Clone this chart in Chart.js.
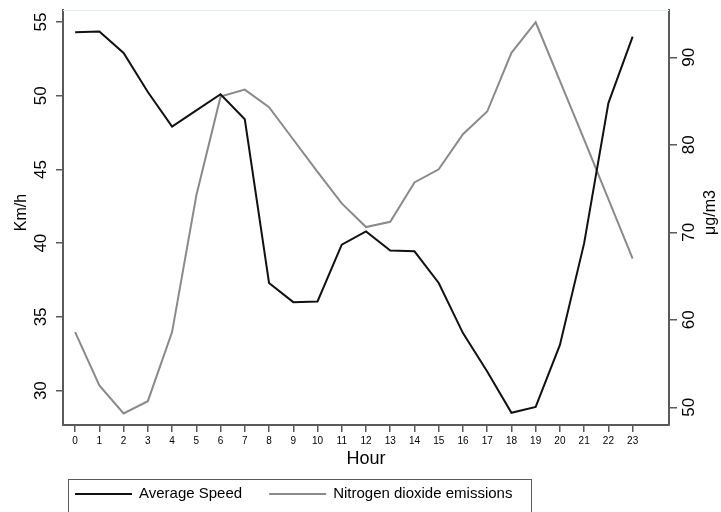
<!DOCTYPE html>
<html>
<head>
<meta charset="utf-8">
<script src="https://cdn.jsdelivr.net/npm/chart.js@4"></script>
<style>
  body { margin: 0; background: #fff; }
  canvas { display: block; }
</style>
</head>
<body>
<canvas id="chart" width="721" height="512"></canvas>
<script>
// hourly values
const hours = [0, 1, 2, 3, 4, 5, 6, 7, 8, 9, 10, 11, 12, 13, 14, 15, 16, 17, 18, 19, 20, 21, 22, 23];
const speed = [54.3, 54.35, 52.9, 50.25, 47.9, 49.0, 50.1, 48.4, 37.3, 36.0, 36.05, 39.9, 40.8, 39.5, 39.45, 37.3, 33.9, 31.3, 28.5, 28.9, 33.1, 40.0, 49.5, 54.0];
const no2 = [58.6, 52.5, 49.3, 50.7, 58.6, 74.2, 85.5, 86.3, 84.3, 80.6, 76.9, 73.3, 70.6, 71.2, 75.7, 77.2, 81.2, 83.8, 90.5, 94.0, 87.3, 80.6, 73.8, 67.0];
const speedTicks = [30, 35, 40, 45, 50, 55];
const no2Ticks = [50, 60, 70, 80, 90];

const FONT = '"Liberation Sans", Arial, sans-serif';
const AXIS = '#5a5a5a';

// rotated y tick labels, y titles, top frame and boxed legend
const extras = {
    id: 'extras',
    beforeDatasetsDraw(chart) {
        const { ctx, chartArea } = chart;
        ctx.save();
        ctx.strokeStyle = '#e4eded';
        ctx.lineWidth = 1;
        ctx.beginPath();
        ctx.moveTo(chartArea.left, chartArea.top + 0.5);
        ctx.lineTo(chartArea.right, chartArea.top + 0.5);
        ctx.stroke();
        ctx.restore();
    },
    afterDraw(chart) {
        const { ctx, chartArea, scales } = chart;
        const up = (x, y, txt) => {
            ctx.save();
            ctx.translate(x, y);
            ctx.rotate(-Math.PI / 2);
            ctx.fillText(txt, 0, 0);
            ctx.restore();
        };
        ctx.save();
        ctx.fillStyle = '#000';
        ctx.textAlign = 'center';
        ctx.textBaseline = 'middle';
        ctx.font = '17px ' + FONT;
        speedTicks.forEach(v => up(41, scales.y.getPixelForValue(v), String(v)));
        no2Ticks.forEach(v => up(689, scales.y1.getPixelForValue(v), String(v)));
        const midY = (chartArea.top + chartArea.bottom) / 2 - 5;
        ctx.font = '16px ' + FONT;
        up(22, midY, 'Km/h');
        up(711, midY, 'μg/m3');

        // legend
        ctx.font = '15px ' + FONT;
        ctx.textAlign = 'left';
        ctx.strokeStyle = AXIS;
        ctx.lineWidth = 1;
        ctx.strokeRect(68.5, 479.5, 463, 60);
        let x = 75;
        const ly = 494;
        chart.data.datasets.forEach(ds => {
            ctx.strokeStyle = ds.borderColor;
            ctx.lineWidth = 2;
            ctx.beginPath();
            ctx.moveTo(x, ly);
            ctx.lineTo(x + 57, ly);
            ctx.stroke();
            ctx.fillText(ds.label, x + 64, ly);
            x += 64 + ctx.measureText(ds.label).width + 27;
        });
        ctx.restore();
    }
};

new Chart(document.getElementById('chart').getContext('2d'), {
    type: 'line',
    data: {
        datasets: [{
            label: 'Average Speed',
            data: hours.map((h, i) => ({ x: h, y: speed[i] })),
            yAxisID: 'y',
            borderColor: '#111',
            borderWidth: 2,
            pointRadius: 0,
            tension: 0
        }, {
            label: 'Nitrogen dioxide emissions',
            data: hours.map((h, i) => ({ x: h, y: no2[i] })),
            yAxisID: 'y1',
            borderColor: '#8a8a8a',
            borderWidth: 2,
            pointRadius: 0,
            tension: 0
        }]
    },
    options: {
        responsive: false,
        animation: false,
        layout: { padding: { top: 10, bottom: 42 } },
        plugins: {
            legend: { display: false },
            tooltip: { enabled: false }
        },
        scales: {
            x: {
                type: 'linear',
                min: -0.5,
                max: 24.5,
                afterBuildTicks: s => { s.ticks = hours.map(v => ({ value: v })); },
                afterFit: s => { s.height = 45; },
                grid: { drawOnChartArea: false, drawTicks: true, tickLength: 7, color: AXIS, lineWidth: 1.5 },
                border: { color: AXIS, width: 2 },
                ticks: { color: '#000', font: { family: FONT, size: 10 }, padding: 3, maxRotation: 0, autoSkip: false },
                title: { display: true, text: 'Hour', color: '#000', font: { family: FONT, size: 18 }, padding: 0 }
            },
            y: {
                position: 'left',
                min: 27.67,
                max: 55.81,
                afterBuildTicks: s => { s.ticks = speedTicks.map(v => ({ value: v })); },
                afterFit: s => { s.width = 63; },
                grid: { drawOnChartArea: false, drawTicks: true, tickLength: 7, color: AXIS, lineWidth: 1.5 },
                border: { color: AXIS, width: 2 },
                ticks: { display: false }
            },
            y1: {
                position: 'right',
                min: 47.98,
                max: 95.4,
                afterBuildTicks: s => { s.ticks = no2Ticks.map(v => ({ value: v })); },
                afterFit: s => { s.width = 52; },
                grid: { drawOnChartArea: false, drawTicks: true, tickLength: 8, color: AXIS, lineWidth: 1.5 },
                border: { color: AXIS, width: 2 },
                ticks: { display: false }
            }
        }
    },
    plugins: [extras]
});
</script>
</body>
</html>
